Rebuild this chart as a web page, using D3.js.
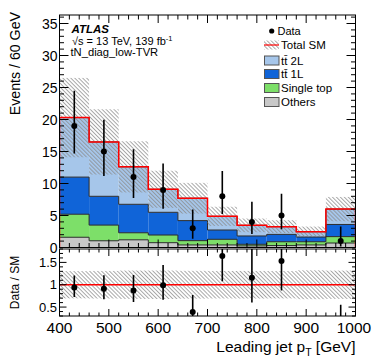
<!DOCTYPE html>
<html><head><meta charset="utf-8">
<script src="https://cdn.jsdelivr.net/npm/d3@7"></script>
<style>
html,body{margin:0;padding:0;background:#fff;}
svg{display:block;font-family:"Liberation Sans",Arial,Helvetica,sans-serif;}
</style></head>
<body><svg id="c" width="374" height="363"></svg>
<script>
// ---- data ----
const binLow = [400,460,520,580,640,700,760,820,880,940];
const binWidth = 60;
const others    = [1.6, 1.05, 1.2, 0.75, 0.4, 0.4, 0.25, 0.3, 0.4, 0.7];
const singleTop = [3.6, 2.45, 1.1, 1.2, 0.67, 0.88, 0.25, 0.6, 0.5, 1.0];
const ttbar1L   = [5.8, 4.5, 4.45, 3.55, 3.13, 1.45, 1.3, 1.15, 0.74, 1.9];
const ttbar2L   = [9.3, 8.5, 5.85, 3.6, 3.5, 2.14, 1.66, 1.21, 0.83, 2.4];
const totalErr  = [6.2, 5.1, 4.0, 2.9, 2.4, 1.5, 1.07, 1.0, 0.8, 1.9];
const dataVals  = [19, 15, 11, 9, 3, 8, 4, 5, null, 1];
const dataErrUp = [5.48, 4.96, 4.35, 4.11, 2.92, 3.94, 3.16, 3.38, null, 2.30];
const dataErrDn = [4.33, 3.83, 3.28, 2.94, 1.63, 2.76, 1.91, 2.16, null, 0.83];
const xTicks = [400,500,600,700,800,900,1000];
const yTicksMain = [0,5,10,15,20,25,30,35];
const yTicksRatio = [0.5,1,1.5];

const svg = d3.select("#c");
const X0 = 59.5, X1 = 355.5;
const x = d3.scaleLinear().domain([400,1000]).range([X0,X1]);
const y = d3.scaleLinear().domain([0,36.33]).range([247.5,15]);
const yr = d3.scaleLinear().domain([0.3,1.8]).range([316,249]);

const defs = svg.append("defs");
const pat = defs.append("pattern").attr("id","hatch").attr("patternUnits","userSpaceOnUse")
  .attr("width",2.8).attr("height",2.8).attr("patternTransform","rotate(-45)");
pat.append("line").attr("x1",0.5).attr("y1",0).attr("x2",0.5).attr("y2",2.8)
  .attr("stroke","#8a8a8a").attr("stroke-width",0.75);
defs.append("clipPath").attr("id","clipMain").append("rect")
  .attr("x",X0).attr("y",15).attr("width",X1-X0).attr("height",247.5-15);
defs.append("clipPath").attr("id","clipRatio").append("rect")
  .attr("x",X0).attr("y",249).attr("width",X1-X0).attr("height",316-249);

const rows = binLow.map((b,i)=>({lo:b, hi:b+binWidth, c:b+binWidth/2,
  others:others[i], single:singleTop[i], tt1:ttbar1L[i], tt2:ttbar2L[i]}));
const keys = ["others","single","tt1","tt2"];
const colors = {others:"#c8c8c8", single:"#7ddf69", tt1:"#1064d8", tt2:"#a6c6ea"};
const stack = d3.stack().keys(keys)(rows);
const total = rows.map(r=>r.others+r.single+r.tt1+r.tt2);

const gMain = svg.append("g").attr("clip-path","url(#clipMain)");
stack.forEach(layer=>{
  gMain.append("g").selectAll("rect").data(layer).join("rect")
    .attr("x",d=>x(d.data.lo)).attr("width",d=>x(d.data.hi)-x(d.data.lo))
    .attr("y",d=>y(d[1])).attr("height",d=>y(d[0])-y(d[1]))
    .attr("fill",colors[layer.key]);
});
function stepPts(vals){
  const pts=[];
  vals.forEach((v,i)=>{pts.push([x(binLow[i]),y(v)]);pts.push([x(binLow[i]+binWidth),y(v)]);});
  return pts;
}
stack.forEach(layer=>{
  const tops = layer.map(d=>d[1]);
  const pts = [[x(400),y(0)],...stepPts(tops),[x(1000),y(0)]];
  gMain.append("path").attr("d",d3.line()(pts)).attr("fill","none")
    .attr("stroke","#2b2b2b").attr("stroke-width",1);
});
gMain.append("g").selectAll("rect").data(rows).join("rect")
  .attr("x",d=>x(d.lo)).attr("width",d=>x(d.hi)-x(d.lo))
  .attr("y",(d,i)=>y(total[i]+totalErr[i]))
  .attr("height",(d,i)=>y(total[i]-totalErr[i])-y(total[i]+totalErr[i]))
  .attr("fill","url(#hatch)");
gMain.append("path").attr("d",d3.line()([[x(400),y(0)],...stepPts(total),[x(1000),y(0)]]))
  .attr("fill","none").attr("stroke","#ff0000").attr("stroke-width",1.5);
const dpts = rows.map((r,i)=>({c:r.c, v:dataVals[i], up:dataErrUp[i], dn:dataErrDn[i], t:total[i]}))
  .filter(d=>d.v!==null);
gMain.append("g").selectAll("line").data(dpts).join("line")
  .attr("x1",d=>x(d.c)).attr("x2",d=>x(d.c))
  .attr("y1",d=>y(d.v+d.up)).attr("y2",d=>y(d.v-d.dn))
  .attr("stroke","#000").attr("stroke-width",1.6);
gMain.append("g").selectAll("circle").data(dpts).join("circle")
  .attr("cx",d=>x(d.c)).attr("cy",d=>y(d.v)).attr("r",3).attr("fill","#000");

const gR = svg.append("g").attr("clip-path","url(#clipRatio)");
gR.append("g").selectAll("rect").data(rows).join("rect")
  .attr("x",d=>x(d.lo)).attr("width",d=>x(d.hi)-x(d.lo))
  .attr("y",(d,i)=>yr(1+totalErr[i]/total[i]))
  .attr("height",(d,i)=>yr(1-totalErr[i]/total[i])-yr(1+totalErr[i]/total[i]))
  .attr("fill","url(#hatch)");
gR.append("line").attr("x1",X0).attr("x2",X1).attr("y1",yr(1)).attr("y2",yr(1))
  .attr("stroke","#ff0000").attr("stroke-width",1.6);
gR.append("g").selectAll("line").data(dpts).join("line")
  .attr("x1",d=>x(d.c)).attr("x2",d=>x(d.c))
  .attr("y1",d=>yr((d.v+d.up)/d.t)).attr("y2",d=>yr((d.v-d.dn)/d.t))
  .attr("stroke","#000").attr("stroke-width",1.6);
gR.append("g").selectAll("circle").data(dpts).join("circle")
  .attr("cx",d=>x(d.c)).attr("cy",d=>yr(d.v/d.t)).attr("r",3).attr("fill","#000");

function frame(top,bottom,ys,yMajor,yMinorStep,yMin,yMax,xMaj,xMin,yMajL,yMinL){
  const g = svg.append("g").attr("stroke","#000").attr("stroke-width",1).attr("fill","none");
  g.append("rect").attr("x",X0).attr("y",top).attr("width",X1-X0).attr("height",bottom-top);
  for(let v=400; v<=1000; v+=20){
    const L = (v%100===0)?xMaj:xMin; const px=x(v);
    g.append("line").attr("x1",px).attr("x2",px).attr("y1",bottom).attr("y2",bottom-L);
    g.append("line").attr("x1",px).attr("x2",px).attr("y1",top).attr("y2",top+L);
  }
  const n = Math.round((yMax-yMin)/yMinorStep);
  for(let k=0;k<=n;k++){
    const v = +(yMin+k*yMinorStep).toFixed(4);
    const py = ys(v); if(py<top-0.1||py>bottom+0.1) continue;
    const isMaj = yMajor.some(m=>Math.abs(m-v)<1e-6);
    const L = isMaj?yMajL:yMinL;
    g.append("line").attr("x1",X0).attr("x2",X0+L).attr("y1",py).attr("y2",py);
    g.append("line").attr("x1",X1).attr("x2",X1-L).attr("y1",py).attr("y2",py);
  }
}
frame(15,247.5,y,yTicksMain,1,0,36,8,4.5,9,4.5);
frame(249,316,yr,yTicksRatio,0.1,0.3,1.8,7,3.5,7,3.5);

svg.append("g").selectAll("text").data(yTicksMain).join("text")
  .attr("x",57.5).attr("y",d=>y(d)).attr("dy","0.36em").attr("text-anchor","end")
  .attr("font-size",14).text(d=>d);
svg.append("g").selectAll("text").data(yTicksRatio).join("text")
  .attr("x",57).attr("y",d=>yr(d)).attr("dy","0.36em").attr("text-anchor","end")
  .attr("font-size",13).text(d=>d);
svg.append("g").selectAll("text").data(xTicks).join("text")
  .attr("x",d=>d===1000?x(d)-1.5:x(d)).attr("y",332.5).attr("text-anchor","middle")
  .attr("font-size",15.5).text(d=>d);

svg.append("text").attr("transform","translate(20,12) rotate(-90)").attr("text-anchor","end")
  .attr("font-size",14.2).text("Events / 60 GeV");
svg.append("text").attr("transform","translate(19,282.5) rotate(-90)").attr("text-anchor","middle")
  .attr("font-size",12).text("Data / SM");
const xt = svg.append("text").attr("x",355.5).attr("y",351.5).attr("text-anchor","end").attr("font-size",15.5);
xt.append("tspan").text("Leading jet p");
xt.append("tspan").attr("font-size",10.5).attr("dy",4).text("T");
xt.append("tspan").attr("dy",-4).text(" [GeV]");

svg.append("text").attr("x",71.5).attr("y",32.5).attr("font-size",11.5).attr("font-weight","bold")
  .attr("font-style","italic").text("ATLAS");
const en = svg.append("text").attr("x",72).attr("y",44.8).attr("font-size",11);
en.append("tspan").text("√s = 13 TeV, 139 fb");
en.append("tspan").attr("font-size",7.5).attr("dy",-4).text("-1");
svg.append("text").attr("x",70.5).attr("y",56.3).attr("font-size",11.2).text("tN_diag_low-TVR");

const lg = svg.append("g");
lg.append("circle").attr("cx",271.7).attr("cy",31).attr("r",2.6).attr("fill","#000");
lg.append("text").attr("x",277.5).attr("y",35).attr("font-size",11).text("Data");
lg.append("rect").attr("x",264).attr("y",40.5).attr("width",15).attr("height",9).attr("fill","url(#hatch)");
lg.append("line").attr("x1",264).attr("x2",279).attr("y1",45).attr("y2",45).attr("stroke","#ff0000").attr("stroke-width",1.2);
lg.append("text").attr("x",281).attr("y",49).attr("font-size",11.5).text("Total SM");
const legItems = [
  {key:"tt2", label:["t","t\u0304"," 2L"], cy:60.5},
  {key:"tt1", label:["t","t\u0304"," 1L"], cy:74},
  {key:"single", label:["Single top"], cy:88},
  {key:"others", label:["Others"], cy:102}
];
legItems.forEach(it=>{
  lg.append("rect").attr("x",264.5).attr("y",it.cy-4.5).attr("width",14.5).attr("height",9)
    .attr("fill",colors[it.key]).attr("stroke","#555").attr("stroke-width",1);
  lg.append("text").attr("x",281).attr("y",it.cy+4).attr("font-size",11.5).text(it.label.join(""));
});
</script></body></html>
